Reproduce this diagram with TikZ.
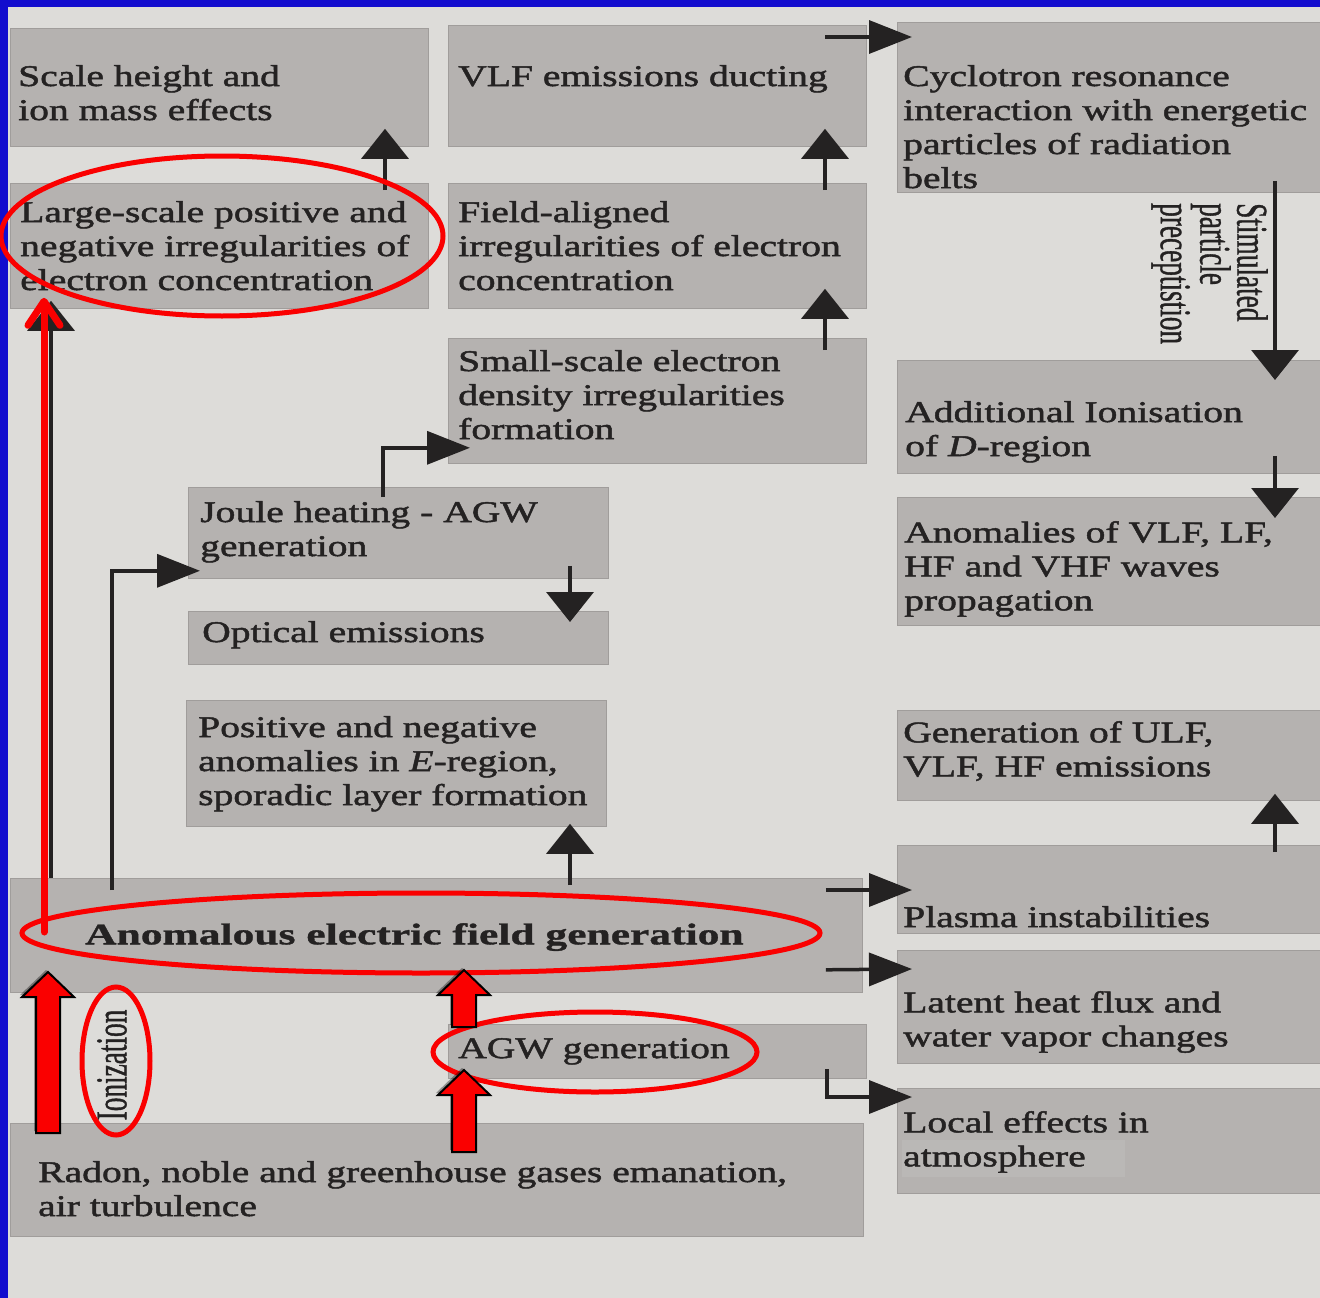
\documentclass[tikz,border=0pt]{standalone}
\usepackage{fontspec}
\newfontfamily\bodyfont{Liberation Serif}[FakeStretch=1.32,FakeBold=1.6]
\newfontfamily\headfont{Liberation Serif}[FakeStretch=1.45,FakeBold=1.2]
\newfontfamily\sidefont{Liberation Serif}[FakeStretch=0.62,FakeBold=0.8]
\usepackage{tikz}
\usetikzlibrary{arrows.meta,calc,positioning,shadows}
\definecolor{frameblue}{RGB}{18,12,206}
\definecolor{paper}{RGB}{221,220,217}
\definecolor{boxgrey}{RGB}{181,178,176}
\definecolor{boxedge}{RGB}{160,157,155}
\definecolor{patchgrey}{RGB}{186,184,182}
\definecolor{inkgrey}{RGB}{36,34,34}
\definecolor{markred}{RGB}{250,0,0}
\tikzset{
  cell/.style={fill=boxgrey,draw=boxedge,line width=0.8pt,anchor=north west,
    inner sep=0pt},
  txt/.style={anchor=north west,inner sep=0pt,align=left,text=inkgrey,
    font=\bodyfont\fontsize{30}{34}\selectfont},
  sidetxt/.style={inner sep=0pt,align=left,text=inkgrey,
    font=\sidefont\fontsize{44}{37}\selectfont},
  uparrow/.style={-{Triangle[length=30pt,width=47pt]},line width=3.5pt,draw=inkgrey},
  sidearrow/.style={-{Triangle[length=43pt,width=33pt]},line width=3.5pt,draw=inkgrey},
  redline/.style={-{Straight Barb[length=24pt,width=32pt,round]},line width=7pt,
    draw=markred,line cap=round},
  ring/.style={draw=markred,line width=5pt},
  fatarrow/.style={fill=markred,draw=black,line width=2pt,
    drop shadow={shadow xshift=-2pt,shadow yshift=2pt,opacity=0.35,fill=black}}
}

\begin{document}
\begin{tikzpicture}[x=1pt,y=-1pt]
  \useasboundingbox (0,0) rectangle (1320,1298);
  \fill[frameblue] (0,0) rectangle (1320,1298);
  \fill[paper] (8,7) rectangle (1320,1298);

  % grey boxes
  \node[cell,minimum width=418pt,minimum height=118pt] (scale) at (10,28) {};
  \node[cell,minimum width=418pt,minimum height=125pt] (large) at (10,183) {};
  \node[cell,minimum width=418pt,minimum height=121pt] (vlf) at (448,25) {};
  \node[cell,minimum width=418pt,minimum height=125pt] (field) at (448,183) {};
  \node[cell,minimum width=418pt,minimum height=125pt] (small) at (448,338) {};
  \node[cell,minimum width=430pt,minimum height=170pt] (cyc) at (897,22) {};
  \node[cell,minimum width=430pt,minimum height=113pt] (dreg) at (897,360) {};
  \node[cell,minimum width=430pt,minimum height=128pt] (waves) at (897,497) {};
  \node[cell,minimum width=430pt,minimum height=90pt] (ulf) at (897,710) {};
  \node[cell,minimum width=430pt,minimum height=88pt] (plasma) at (897,845) {};
  \node[cell,minimum width=430pt,minimum height=113pt] (latent) at (897,950) {};
  \node[cell,minimum width=430pt,minimum height=105pt] (local) at (897,1088) {};
  \node[cell,minimum width=420pt,minimum height=91pt] (joule) at (188,487) {};
  \node[cell,minimum width=420pt,minimum height=53pt] (optical) at (188,611) {};
  \node[cell,minimum width=420pt,minimum height=126pt] (ereg) at (186,700) {};
  \node[cell,minimum width=852pt,minimum height=114pt] (anom) at (10,878) {};
  \node[cell,minimum width=418pt,minimum height=54pt] (agw) at (448,1024) {};
  \node[cell,minimum width=853pt,minimum height=113pt] (radon) at (10,1123) {};
  \fill[patchgrey] (902,1140) rectangle (1125,1177);

  % texts
  \node[txt,below right=37pt and 8pt of scale.north west] (scale-t) {Scale height and\\ion mass effects};
  \node[txt,below right=18pt and 10pt of large.north west] (large-t) {Large-scale positive and\\negative irregularities of\\electron concentration};
  \node[txt,below right=40pt and 10pt of vlf.north west] (vlf-t) {VLF emissions ducting};
  \node[txt,below right=18pt and 10pt of field.north west] (field-t) {Field-aligned\\irregularities of electron\\concentration};
  \node[txt,below right=12pt and 10pt of small.north west] (small-t) {Small-scale electron\\density irregularities\\formation};
  \node[txt,below right=43pt and 6pt of cyc.north west] (cyc-t) {Cyclotron resonance\\interaction with energetic\\particles of radiation\\belts};
  \node[txt,below right=41pt and 8pt of dreg.north west] (dreg-t) {Additional Ionisation\\of \textit{D}-region};
  \node[txt,below right=24pt and 7pt of waves.north west] (waves-t) {Anomalies of VLF, LF,\\HF and VHF waves\\propagation};
  \node[txt,below right=11pt and 6pt of ulf.north west] (ulf-t) {Generation of ULF,\\VLF, HF emissions};
  \node[txt,below right=61pt and 6pt of plasma.north west] (plasma-t) {Plasma instabilities};
  \node[txt,below right=41pt and 6pt of latent.north west] (latent-t) {Latent heat flux and\\water vapor changes};
  \node[txt,below right=23pt and 6pt of local.north west] (local-t) {Local effects in\\atmosphere};
  \node[txt,below right=14pt and 12pt of joule.north west] (joule-t) {Joule heating - AGW\\generation};
  \node[txt,below right=10pt and 14pt of optical.north west] (optical-t) {Optical emissions};
  \node[txt,below right=16pt and 12pt of ereg.north west] (ereg-t) {Positive and negative\\anomalies in \textit{E}-region,\\sporadic layer formation};
  \node[txt,font=\headfont\bfseries\fontsize{30}{34}\selectfont,
    below right=45pt and 75pt of anom.north west] (anom-t) {Anomalous electric field generation};
  \node[txt,below right=14pt and 10pt of agw.north west] (agw-t) {AGW generation};
  \node[txt,below right=38pt and 28pt of radon.north west] (radon-t) {Radon, noble and greenhouse gases emanation,\\air turbulence};
  \node[sidetxt,rotate=-90,anchor=north west] (stim) at (1268,203) {Stimulated\\particle\\preceptistion};
  \node[sidetxt,rotate=90] (ion) at (112,1065) {Ionization};

  % dark connectors
  \draw[uparrow] ($(large.north west)+(375,7)$) -- ($(scale.south west)+(375,-18)$);
  \draw[uparrow] ($(field.north west)+(377,7)$) -- ($(vlf.south west)+(377,-18)$);
  \draw[uparrow] ($(small.north west)+(377,12)$) -- ($(field.south west)+(377,-20)$);
  \draw[sidearrow] ($(vlf.north west)+(377,12)$) -- ($(cyc.north west)+(15,15)$);
  \draw[uparrow] ($(cyc.south west)+(378,-12)$) -- ($(dreg.north west)+(378,20)$);
  \draw[uparrow] ($(dreg.south west)+(378,-18)$) -- ($(waves.north west)+(378,21)$);
  \draw[uparrow] ($(plasma.north west)+(378,7)$) -- ($(ulf.south west)+(378,-7)$);
  \draw[sidearrow] ($(joule.north west)+(195,10)$) |- ($(small.south west)+(22,-16)$);
  \draw[sidearrow] ($(anom.north west)+(102,12)$) |- ($(joule.south west)+(12,-8)$);
  \draw[uparrow] ($(joule.south west)+(382,-13)$) -- ($(optical.north west)+(382,11)$);
  \draw[uparrow] ($(anom.north west)+(560,7)$) -- ($(ereg.south west)+(384,-3)$);
  \draw[uparrow] ($(anom.north west)+(41,0)$) -- ($(large.south west)+(41,-8)$);
  \draw[sidearrow] ($(anom.north east)+(-37,12)$) -- ($(plasma.north west)+(15,45)$);
  \draw[sidearrow] ($(anom.south east)+(-37,-23)$) -- ($(latent.north west)+(15,19)$);
  \draw[sidearrow] ($(agw.north east)+(-40,45)$) |- ($(local.north west)+(15,9)$);

  % red marks
  \draw[ring] (222,236) ellipse [x radius=221pt,y radius=80pt];
  \draw[ring] (421,933) ellipse [x radius=399pt,y radius=40pt];
  \draw[ring] (595,1052) ellipse [x radius=162pt,y radius=40pt];
  \draw[ring] (116,1061) ellipse [x radius=34pt,y radius=74pt];
  \draw[redline] ($(anom.north west)+(34,54)$) -- ($(large.south west)+(34,-11)$);
  \foreach \x/\b/\h/\t in {48/1133/997/972,464/1027/995/970,464/1152/1095/1070}
    \draw[fatarrow] (\x-12,\b) -- (\x+12,\b) -- (\x+12,\h) -- (\x+26,\h)
      -- (\x,\t) -- (\x-26,\h) -- (\x-12,\h) -- cycle;
\end{tikzpicture}
\end{document}
